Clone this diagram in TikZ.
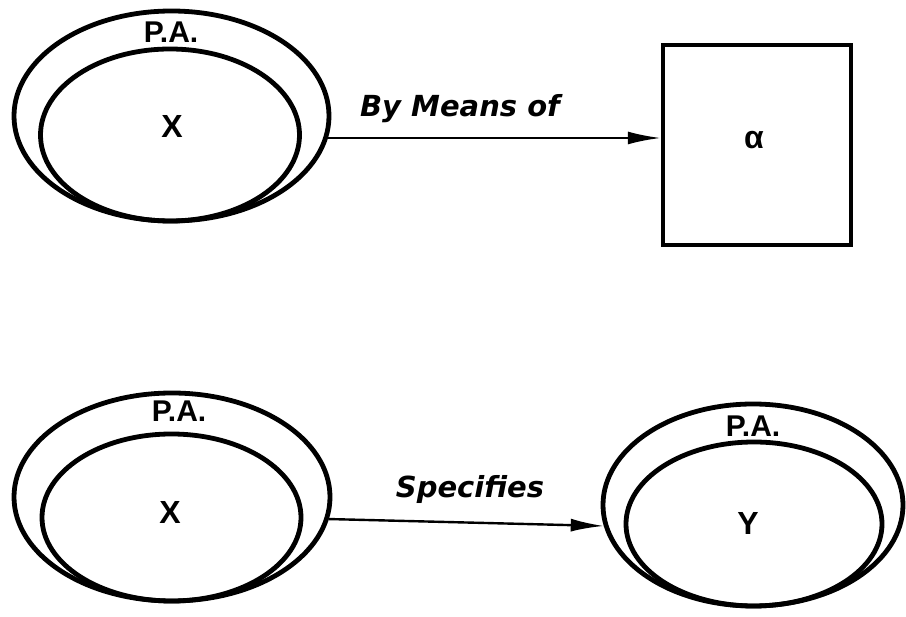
\documentclass[tikz,border=0pt]{standalone}
\usepackage{fontspec}
\setmainfont{Liberation Sans}
\newfontfamily\edgefont{DejaVu Sans}
\usetikzlibrary{shapes.geometric,arrows.meta}
\begin{document}
\begin{tikzpicture}[x=1pt,y=-1pt,
  ell/.style={draw,ellipse,line width=4.8pt,inner sep=0pt},
  lbl/.style={font=\fontsize{32}{32}\selectfont\bfseries,inner sep=0pt},
  palbl/.style={font=\fontsize{30}{30}\selectfont\bfseries,inner sep=0pt,anchor=base},
  conn/.style={line width=2.4pt,-{Latex[length=33pt,width=13pt]}},
  edgelbl/.style={font=\edgefont\fontsize{29}{29}\selectfont\bfseries\itshape,inner sep=0pt,anchor=base}]
\useasboundingbox (0,0) rectangle (906,617);
% top left
\node[ell,minimum width=315pt,minimum height=210pt] (pa1) at (171.5,116) {};
\node[ell,minimum width=259pt,minimum height=172pt] (in1) at (170,135) {};
\node[lbl] (x1) at (172,126) {X};
\node[palbl] (pal1) at (171,43) {P.A.};
% box
\node[draw,line width=4.5pt,minimum width=188pt,minimum height=200pt] (box) at (757,145) {};
\node[lbl] (alpha) at (754,140) {α};
\draw[conn] (pa1.-8) -- (box.west |- pa1.-8);
\node[edgelbl] (bm) at (460,117) {By Means of};
% bottom left
\node[ell,minimum width=316pt,minimum height=208pt] (pa2) at (172,497) {};
\node[ell,minimum width=259pt,minimum height=167pt] (in2) at (171.5,517.5) {};
\node[lbl] (x2) at (170,512) {X};
\node[palbl] (pal2) at (179,422) {P.A.};
% bottom right
\node[ell,minimum width=300pt,minimum height=202pt] (pa3) at (753,505) {};
\node[ell,minimum width=256pt,minimum height=164pt] (in3) at (754,524) {};
\node[lbl] (y3) at (748,523) {Y};
\node[palbl] (pal3) at (753,437) {P.A.};
\draw[conn] (pa2.-8.5) -- (pa3.188);
\node[edgelbl] (sp) at (470,498) {Specifies};
\end{tikzpicture}
\end{document}
